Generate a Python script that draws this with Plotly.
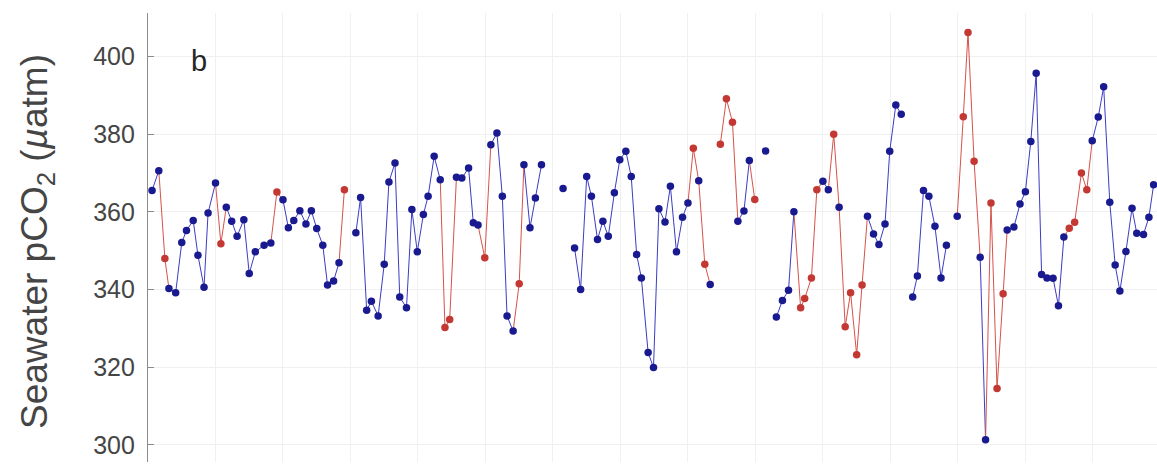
import plotly.graph_objects as go

# Sampling time (days) of each seawater pCO2 measurement; None marks a data gap
day = [0.6, 1.6, 2.5, 3.1, 4.1, 5.0, 5.7, 6.7, 7.4, 8.3, 8.9, 10.0, 10.8, 11.6, 12.4, 13.2,
       14.2, 15.0, 15.9, 17.2, 18.2, 19.1, 20.0, 20.8, 21.6, 22.5, 23.4, 24.2, 25.0, 25.9,
       26.6, 27.5, 28.3, 29.1, None,
       30.8, 31.5, 32.4, 33.1, 34.1, 35.0, 35.7, 36.6, 37.3, 38.3, 39.1, 39.9, 40.8, 41.5,
       42.4, 43.3, 44.0, 44.7, 45.7, 46.5, 47.5, 48.2, 48.9, 49.9, 50.8, 51.7, 52.5, 53.2,
       54.1, 55.0, 55.7, 56.6, 57.4, 58.3, None,
       61.5, None,
       63.2, 64.1, 65.0, 65.7, 66.6, 67.4, 68.2, 69.1, 69.9, 70.8, 71.6, 72.4, 73.1, 74.1,
       74.9, 75.7, 76.6, 77.4, 78.3, 79.2, 80.0, 80.8, 81.6, 82.5, 83.3, None,
       84.8, 85.7, 86.6, 87.4, 88.3, 89.1, 89.9, None,
       91.5, None,
       93.1, 94.0, 94.9, 95.7, 96.7, 97.3, 98.3, 99.1, 100.0, 100.8, 101.6, 102.4, 103.3,
       104.1, 105.0, 105.8, 106.6, 107.5, 108.3, 109.2, 109.9, 110.8, 111.6, None,
       113.3, 114.0, 114.9, 115.7, 116.6, 117.5, 118.3, None,
       119.9, 120.8, 121.5, 122.4, 123.3, 124.1, 124.9, 125.8, 126.7, 127.3, 128.3, 129.2,
       130.0, 130.8, 131.6, 132.4, 133.2, 134.1, 134.9, 135.7, 136.5, 137.3, 138.3, 139.1,
       139.9, 140.8, 141.6, 142.5, 143.3, 144.0, 144.9, 145.8, 146.5, 147.5, 148.3, 149.0]

# Seawater pCO2 (uatm)
pco2 = [365.5, 370.6, 348.0, 340.3, 339.2, 352.1, 355.2, 357.8, 348.8, 340.6, 359.7, 367.4,
        351.8, 361.2, 357.6, 353.7, 358.0, 344.1, 349.7, 351.4, 352.0, 365.1, 363.1, 355.9,
        357.8, 360.3, 356.9, 360.3, 355.7, 351.4, 341.2, 342.2, 346.9, 365.7, None,
        354.6, 363.7, 334.7, 337.0, 333.2, 346.5, 367.7, 372.6, 338.1, 335.3, 360.6, 349.7,
        359.3, 364.0, 374.3, 368.3, 330.2, 332.3, 368.9, 368.7, 371.3, 357.2, 356.6, 348.2,
        377.3, 380.3, 364.0, 333.2, 329.3, 341.5, 372.1, 355.9, 363.6, 372.1, None,
        366.0, None,
        350.7, 340.0, 369.1, 364.0, 352.9, 357.6, 353.7, 364.9, 373.4, 375.6, 369.1, 349.0,
        343.0, 323.8, 319.9, 360.8, 357.4, 366.6, 349.7, 358.6, 362.3, 376.4, 368.0, 346.5,
        341.3, None,
        377.4, 389.1, 383.1, 357.6, 360.2, 373.2, 363.2, None,
        375.7, None,
        332.9, 337.2, 339.8, 360.0, 335.3, 337.7, 343.0, 365.7, 367.9, 365.7, 380.0, 361.2,
        330.4, 339.2, 323.2, 341.2, 358.9, 354.3, 351.6, 356.9, 375.6, 387.5, 385.1, None,
        338.1, 343.5, 365.5, 364.0, 356.3, 343.0, 351.4, None,
        358.9, 384.5, 406.2, 373.0, 348.3, 301.3, 362.3, 314.5, 338.9, 355.3, 356.1, 362.0,
        365.2, 378.1, 395.7, 343.9, 343.0, 342.9, 335.8, 353.5, 355.8, 357.3, 370.0, 365.7,
        378.3, 384.4, 392.2, 362.5, 346.3, 339.6, 349.8, 360.9, 354.5, 354.2, 358.6, 367.0]

# 1 = sample flagged (drawn red), 0 = regular sample (drawn blue)
flagged = [0, 0, 1, 0, 0, 0, 0, 0, 0, 0, 0, 0, 1, 0, 0, 0, 0, 0, 0, 0, 0, 1, 0, 0, 0, 0, 0,
           0, 0, 0, 0, 0, 0, 1, None,
           0, 0, 0, 0, 0, 0, 0, 0, 0, 0, 0, 0, 0, 0, 0, 0, 1, 1, 0, 0, 0, 0, 0, 1, 0, 0, 0,
           0, 0, 1, 0, 0, 0, 0, None,
           0, None,
           0, 0, 0, 0, 0, 0, 0, 0, 0, 0, 0, 0, 0, 0, 0, 0, 0, 0, 0, 0, 0, 1, 0, 1, 0, None,
           1, 1, 1, 0, 0, 0, 1, None,
           0, None,
           0, 0, 0, 0, 1, 1, 1, 1, 0, 0, 1, 0, 1, 1, 1, 1, 0, 0, 0, 0, 0, 0, 0, None,
           0, 0, 0, 0, 0, 0, 0, None,
           0, 1, 1, 1, 0, 0, 1, 1, 1, 0, 0, 0, 0, 0, 0, 0, 0, 0, 0, 0, 1, 1, 1, 1, 0, 0, 0,
           0, 0, 0, 0, 0, 0, 0, 0, 0]

y_ticks = [300, 320, 340, 360, 380, 400]
panel_label = "b"

BLUE_MARK = "#1a1a90"
BLUE_LINE = "#3c3cc4"
RED_MARK = "#c43834"
RED_LINE = "#d6524a"

# split the connecting line into blue-only segments and segments touching a flagged sample
bx, by, rx, ry = [], [], [], []
for i in range(len(day) - 1):
    if day[i] is None or day[i + 1] is None:
        continue
    if flagged[i] or flagged[i + 1]:
        rx += [day[i], day[i + 1], None]
        ry += [pco2[i], pco2[i + 1], None]
    else:
        bx += [day[i], day[i + 1], None]
        by += [pco2[i], pco2[i + 1], None]

blue_pts = [(d, v) for d, v, f in zip(day, pco2, flagged) if d is not None and f == 0]
red_pts = [(d, v) for d, v, f in zip(day, pco2, flagged) if d is not None and f == 1]

fig = go.Figure()
fig.add_trace(go.Scatter(x=bx, y=by, mode="lines",
                         line=dict(color=BLUE_LINE, width=1), hoverinfo="skip"))
fig.add_trace(go.Scatter(x=rx, y=ry, mode="lines",
                         line=dict(color=RED_LINE, width=1), hoverinfo="skip"))
fig.add_trace(go.Scatter(x=[p[0] for p in blue_pts], y=[p[1] for p in blue_pts],
                         mode="markers", marker=dict(color=BLUE_MARK, size=7.5)))
fig.add_trace(go.Scatter(x=[p[0] for p in red_pts], y=[p[1] for p in red_pts],
                         mode="markers", marker=dict(color=RED_MARK, size=7.5)))

W, H = 1157, 473
ML, MR, MT, MB = 148, 0, 13, 11

fig.update_layout(
    width=W, height=H,
    margin=dict(l=ML, r=MR, t=MT, b=MB),
    paper_bgcolor="white", plot_bgcolor="white",
    showlegend=False,
    font=dict(family="Liberation Sans, Arial, sans-serif", color="#404040"),
)
fig.update_xaxes(
    range=[0, 149.5], tick0=0, dtick=10,
    showgrid=True, gridcolor="#f0f0f0", gridwidth=1,
    showticklabels=False, ticks="", showline=False, zeroline=False,
)
fig.update_yaxes(
    range=[295.6, 411.2], tickvals=y_ticks,
    showgrid=True, gridcolor="#f0f0f0", gridwidth=1,
    showline=True, linecolor="#8c8c8c", linewidth=1.2,
    ticks="inside", ticklen=6, tickcolor="#8c8c8c",
    tickfont=dict(size=25, color="#454545"), ticklabelstandoff=7,
    zeroline=False,
)
fig.add_annotation(
    text="Seawater pCO<sub>2</sub> (<i>µ</i>atm)", textangle=-90,
    xref="paper", yref="paper", x=-0.11, y=0.49, xanchor="center", yanchor="middle",
    showarrow=False, font=dict(size=37, color="#454545"),
)
fig.add_annotation(
    text=panel_label, xref="paper", yref="paper", x=0.041, y=0.893,
    xanchor="left", yanchor="middle", showarrow=False,
    font=dict(size=29, color="#262626"),
)

fig.write_html("out.html")
